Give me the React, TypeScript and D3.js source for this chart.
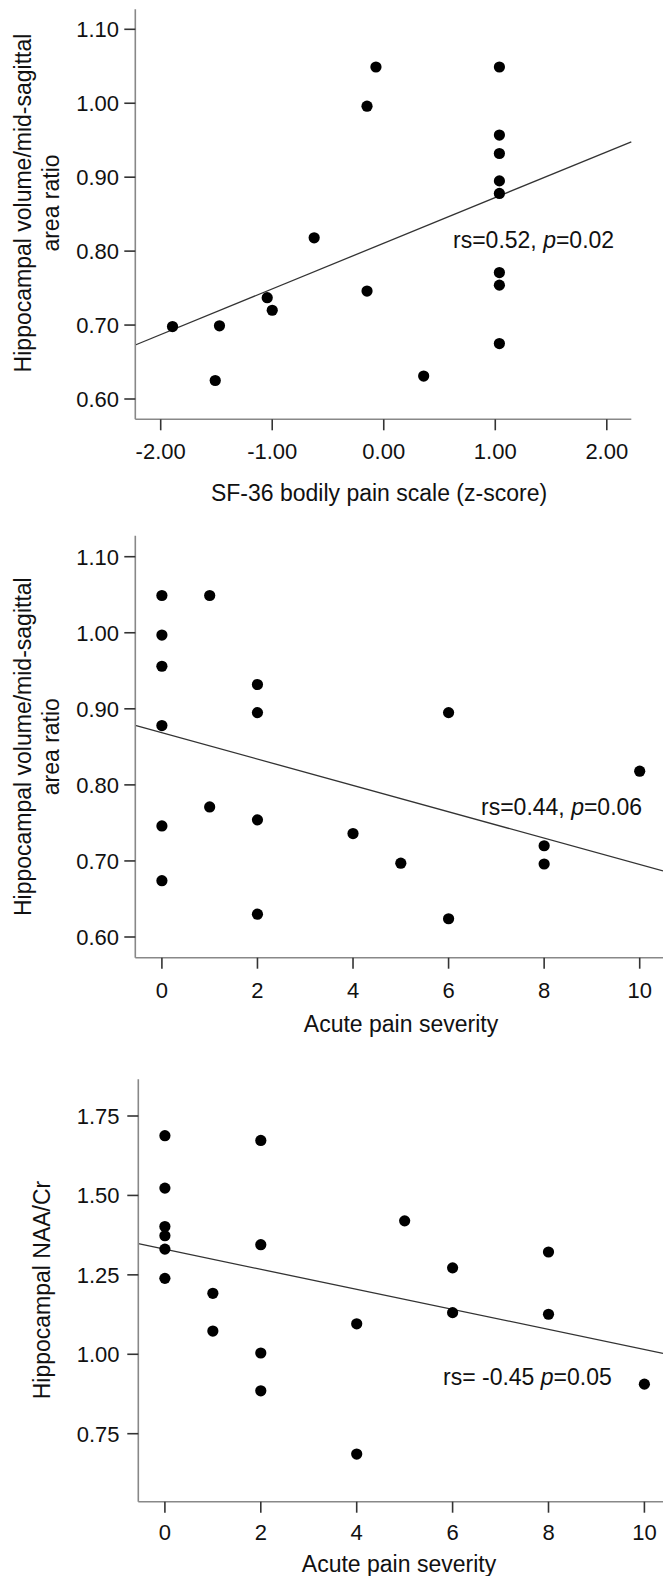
import React from "react";
import * as d3 from "d3";

// ---------- DATA ----------
// Panel 1: SF-36 bodily pain scale (z-score) vs hippocampal volume ratio
const p1X = [-1.894, -1.473, -1.045, -1.0, -0.624, -0.15, -0.07, -0.15, -1.511, 0.358, 1.037, 1.037, 1.037, 1.037, 1.037, 1.037, 1.037, 1.037];
const p1Y = [0.698, 0.699, 0.737, 0.72, 0.818, 0.996, 1.049, 0.746, 0.625, 0.631, 1.049, 0.957, 0.932, 0.895, 0.878, 0.771, 0.754, 0.675];
const p1XTicks = [-2, -1, 0, 1, 2];
const p1YTicks = [0.6, 0.7, 0.8, 0.9, 1.0, 1.1];
const p1Fit = [0.8107, 0.0618]; // intercept, slope

// Panel 2: Acute pain severity vs hippocampal volume ratio
const p2X = [0, 1, 0, 0, 0, 0, 0, 1, 2, 2, 2, 2, 4, 5, 6, 6, 8, 8, 10];
const p2Y = [1.049, 1.049, 0.997, 0.956, 0.878, 0.746, 0.674, 0.771, 0.932, 0.895, 0.754, 0.63, 0.736, 0.697, 0.895, 0.624, 0.72, 0.696, 0.818];
const p2XTicks = [0, 2, 4, 6, 8, 10];
const p2YTicks = [0.6, 0.7, 0.8, 0.9, 1.0, 1.1];
const p2Fit = [0.8686, -0.01733];

// Panel 3: Acute pain severity vs hippocampal NAA/Cr
const p3X = [0, 2, 0, 0, 0, 0, 5, 2, 8, 6, 0, 1, 1, 4, 6, 8, 2, 2, 10, 4];
const p3Y = [1.688, 1.673, 1.523, 1.402, 1.373, 1.331, 1.42, 1.345, 1.322, 1.272, 1.239, 1.192, 1.073, 1.096, 1.131, 1.126, 1.004, 0.885, 0.906, 0.686];
const p3XTicks = [0, 2, 4, 6, 8, 10];
const p3YTicks = [0.75, 1.0, 1.25, 1.5, 1.75];
const p3Fit = [1.3305, -0.03153];

const FONT = "Arial, 'Liberation Sans', Helvetica, sans-serif";

type PanelProps = {
  xs: number[]; ys: number[]; xTicks: number[]; yTicks: number[]; fit: number[];
  xDomain: [number, number]; xRange: [number, number];
  yDomain: [number, number]; yRange: [number, number];
  axisLeft: number; axisRight: number; axisTop: number; axisBottom: number;
  xFmt: (v: number) => string; yFmt: (v: number) => string;
  xLabelY: number; xTitle: string; xTitleX: number; xTitleY: number;
  yTitle: string[]; yTitleY: number; yTitleX: number[];
  yLabelX: number;
  note: React.ReactNode; noteX: number; noteY: number;
};

function Panel(p: PanelProps) {
  const x = d3.scaleLinear().domain(p.xDomain).range(p.xRange);
  const y = d3.scaleLinear().domain(p.yDomain).range(p.yRange);
  const xl = x.invert(p.axisLeft);
  const xr = x.invert(p.axisRight);
  const line = d3.line<number>().x((d) => x(d)).y((d) => y(p.fit[0] + p.fit[1] * d));
  return (
    <g>
      <path d={line([xl, xr]) || ""} fill="none" stroke="#333" strokeWidth={1.3} />
      {p.xs.map((v, i) => (
        <circle key={i} cx={x(v)} cy={y(p.ys[i])} r={5.6} fill="#000" />
      ))}
      <line x1={p.axisLeft} x2={p.axisLeft} y1={p.axisTop} y2={p.axisBottom} stroke="#888" strokeWidth={1.6} />
      <line x1={p.axisLeft} x2={p.axisRight} y1={p.axisBottom} y2={p.axisBottom} stroke="#888" strokeWidth={1.6} />
      {p.yTicks.map((t) => (
        <g key={"y" + t}>
          <line x1={p.axisLeft - 11} x2={p.axisLeft} y1={y(t)} y2={y(t)} stroke="#333" strokeWidth={1.6} />
          <text x={p.yLabelX} y={y(t) + 7.9} textAnchor="end" fontSize={22} fontFamily={FONT} fill="#111">
            {p.yFmt(t)}
          </text>
        </g>
      ))}
      {p.xTicks.map((t) => (
        <g key={"x" + t}>
          <line x1={x(t)} x2={x(t)} y1={p.axisBottom} y2={p.axisBottom + 11} stroke="#333" strokeWidth={1.6} />
          <text x={x(t)} y={p.xLabelY} textAnchor="middle" fontSize={22} fontFamily={FONT} fill="#111">
            {p.xFmt(t)}
          </text>
        </g>
      ))}
      <text x={p.xTitleX} y={p.xTitleY} textAnchor="middle" fontSize={23} fontFamily={FONT} fill="#111">
        {p.xTitle}
      </text>
      {p.yTitle.map((s, i) => (
        <text key={i} transform={`translate(${p.yTitleX[i]},${p.yTitleY}) rotate(-90)`} textAnchor="middle" fontSize={23} fontFamily={FONT} fill="#111">
          {s}
        </text>
      ))}
      <text x={p.noteX} y={p.noteY} fontSize={23} fontFamily={FONT} fill="#111">
        {p.note}
      </text>
    </g>
  );
}

export default function App() {
  const f2 = (v: number) => v.toFixed(2);
  const f0 = (v: number) => String(Math.round(v));
  return (
    <svg width={663} height={1576} style={{ position: "absolute", left: 0, top: 0, background: "#fff" }}>
      <rect width={663} height={1576} fill="#fff" />
      <Panel
        xs={p1X} ys={p1Y} xTicks={p1XTicks} yTicks={p1YTicks} fit={p1Fit}
        xDomain={[-2, 2]} xRange={[160.7, 606.8]} yDomain={[0.6, 1.1]} yRange={[399, 29.3]}
        axisLeft={135.3} axisRight={631.3} axisTop={9.3} axisBottom={419.3}
        xFmt={f2} yFmt={f2} xLabelY={459.3}
        xTitle="SF-36 bodily pain scale (z-score)" xTitleX={379} xTitleY={500.7}
        yTitle={["Hippocampal volume/mid-sagittal", "area ratio"]} yTitleY={203} yTitleX={[30.5, 58.5]}
        yLabelX={119}
        note={<><tspan>rs=0.52, </tspan><tspan fontStyle="italic">p</tspan><tspan>=0.02</tspan></>}
        noteX={453} noteY={248.3}
      />
      <Panel
        xs={p2X} ys={p2Y} xTicks={p2XTicks} yTicks={p2YTicks} fit={p2Fit}
        xDomain={[0, 10]} xRange={[161.9, 639.7]} yDomain={[0.6, 1.1]} yRange={[937, 556.7]}
        axisLeft={135.3} axisRight={663} axisTop={535.7} axisBottom={957.7}
        xFmt={f0} yFmt={f2} xLabelY={998}
        xTitle="Acute pain severity" xTitleX={401} xTitleY={1031.7}
        yTitle={["Hippocampal volume/mid-sagittal", "area ratio"]} yTitleY={746.7} yTitleX={[30.5, 58.5]}
        yLabelX={119}
        note={<><tspan>rs=0.44, </tspan><tspan fontStyle="italic">p</tspan><tspan>=0.06</tspan></>}
        noteX={481} noteY={815}
      />
      <Panel
        xs={p3X} ys={p3Y} xTicks={p3XTicks} yTicks={p3YTicks} fit={p3Fit}
        xDomain={[0, 10]} xRange={[164.9, 644.4]} yDomain={[0.75, 1.75]} yRange={[1433.7, 1116]}
        axisLeft={138.3} axisRight={663} axisTop={1079.3} axisBottom={1501.7}
        xFmt={f0} yFmt={f2} xLabelY={1540}
        xTitle="Acute pain severity" xTitleX={399} xTitleY={1571.7}
        yTitle={["Hippocampal NAA/Cr"]} yTitleY={1290} yTitleX={[50]}
        yLabelX={119.5}
        note={<><tspan>rs= -0.45 </tspan><tspan fontStyle="italic">p</tspan><tspan>=0.05</tspan></>}
        noteX={443} noteY={1385}
      />
    </svg>
  );
}
